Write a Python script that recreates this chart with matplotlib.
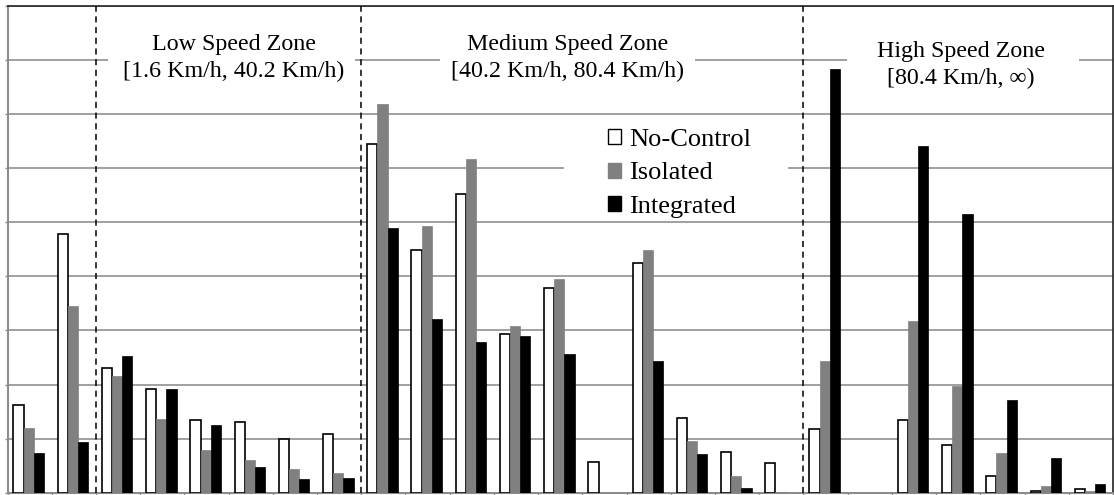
import matplotlib
matplotlib.use("Agg")
import matplotlib.pyplot as plt
from matplotlib.patches import Rectangle, Patch
import numpy as np

# ---- data (in gridline units, 0..9) ----
series_names = ["No-Control", "Isolated", "Integrated"]
no_control = [1.63, 4.78, 2.30, 1.91, 1.34, 1.30, 0.99, 1.09, 6.45, 4.48, 5.52, 2.93, 3.78,
              0.57, 4.25, 1.39, 0.76, 0.54, 1.18, 0.0, 1.34, 0.89, 0.31, 0.04, 0.06]
isolated = [1.19, 3.46, 2.16, 1.36, 0.79, 0.60, 0.44, 0.36, 7.19, 4.93, 6.17, 3.08, 3.95,
            0.0, 4.49, 0.96, 0.31, 0.02, 2.44, 0.0, 3.18, 1.97, 0.74, 0.13, 0.04]
integrated = [0.74, 0.93, 2.53, 1.92, 1.26, 0.48, 0.25, 0.27, 4.90, 3.22, 2.79, 2.89, 2.56,
              0.0, 2.44, 0.72, 0.08, 0.0, 7.83, 0.0, 6.41, 5.16, 1.71, 0.65, 0.16]
zone_boundaries = [1.5, 7.5, 17.5]
zone_labels = ["Low Speed Zone\n[1.6 Km/h, 40.2 Km/h)",
               "Medium Speed Zone\n[40.2 Km/h, 80.4 Km/h)",
               "High Speed Zone\n[80.4 Km/h, \u221e)"]

plt.rcParams['font.family'] = ['Liberation Serif', 'DejaVu Serif']

W, H = 1114, 495
fig = plt.figure(figsize=(W / 100, H / 100), dpi=100)
ax = fig.add_axes([7.5 / W, 2.3 / H, (1113 - 7.5) / W, (492.7 - 6) / H])

n = len(no_control)
x = np.arange(n)
bw = 0.23
off = -0.02
ax.bar(x + off - bw, no_control, bw, color="white", edgecolor="black",
       linewidth=[1.2 if v > 0 else 0 for v in no_control], zorder=3)
ax.bar(x + off, isolated, bw, color="#808080", edgecolor="#808080",
       linewidth=[0.5 if v > 0 else 0 for v in isolated], zorder=3)
ax.bar(x + off + bw, integrated, bw, color="black", edgecolor="black",
       linewidth=[0.5 if v > 0 else 0 for v in integrated], zorder=3)

ax.set_xlim(-0.5, n - 0.5)
ax.set_ylim(0, 9)
ax.set_yticks(np.arange(0, 10, 1))
ax.set_xticks(np.arange(-0.5, n, 1))
ax.set_xticklabels([])
ax.set_yticklabels([])
ax.tick_params(axis='both', length=2.5, width=1, color="#8c8c8c", direction='out')
ax.yaxis.grid(True, color="#a0a0a0", linewidth=1.4, zorder=0)
ax.set_axisbelow(True)

for s in ["left", "bottom"]:
    ax.spines[s].set_color("#8c8c8c")
    ax.spines[s].set_linewidth(1.5)
for s in ["top", "right"]:
    ax.spines[s].set_color("#222222")
    ax.spines[s].set_linewidth(1.2)

for b in zone_boundaries:
    ax.axvline(b, color="black", linestyle=(0, (4, 3)), linewidth=1.1, zorder=4)

# white text boxes covering gridlines
boxes = [(0.0909, 0.2234), (0.391, 0.2307), (0.7594, 0.2099)]
for (bx, bwid) in boxes:
    ax.add_patch(Rectangle((bx, 0.807), bwid, 0.160, transform=ax.transAxes,
                           facecolor="white", edgecolor="none", zorder=2))
text_pos = [(0.2049, 0.893), (0.507, 0.893), (0.8625, 0.879)]
for (tx, ty), lab in zip(text_pos, zone_labels):
    ax.text(tx, ty, lab, transform=ax.transAxes, ha="center", va="center",
            fontsize=17.3, linespacing=1.38, zorder=5)

# legend
ax.add_patch(Rectangle((0.5034, 0.5706), 0.2026, 0.195, transform=ax.transAxes,
                       facecolor="white", edgecolor="none", zorder=2))
handles = [Patch(facecolor="white", edgecolor="black", linewidth=1.0),
           Patch(facecolor="#808080", edgecolor="#808080"),
           Patch(facecolor="black", edgecolor="black")]
leg = ax.legend(handles, series_names, loc="center", bbox_to_anchor=(0.608, 0.656),
                frameon=False, fontsize=19, handlelength=0.5, handleheight=0.5,
                handletextpad=0.3, labelspacing=0.42, borderpad=0, borderaxespad=0)
leg.set_zorder(6)

fig.savefig("out.png", dpi=100)
